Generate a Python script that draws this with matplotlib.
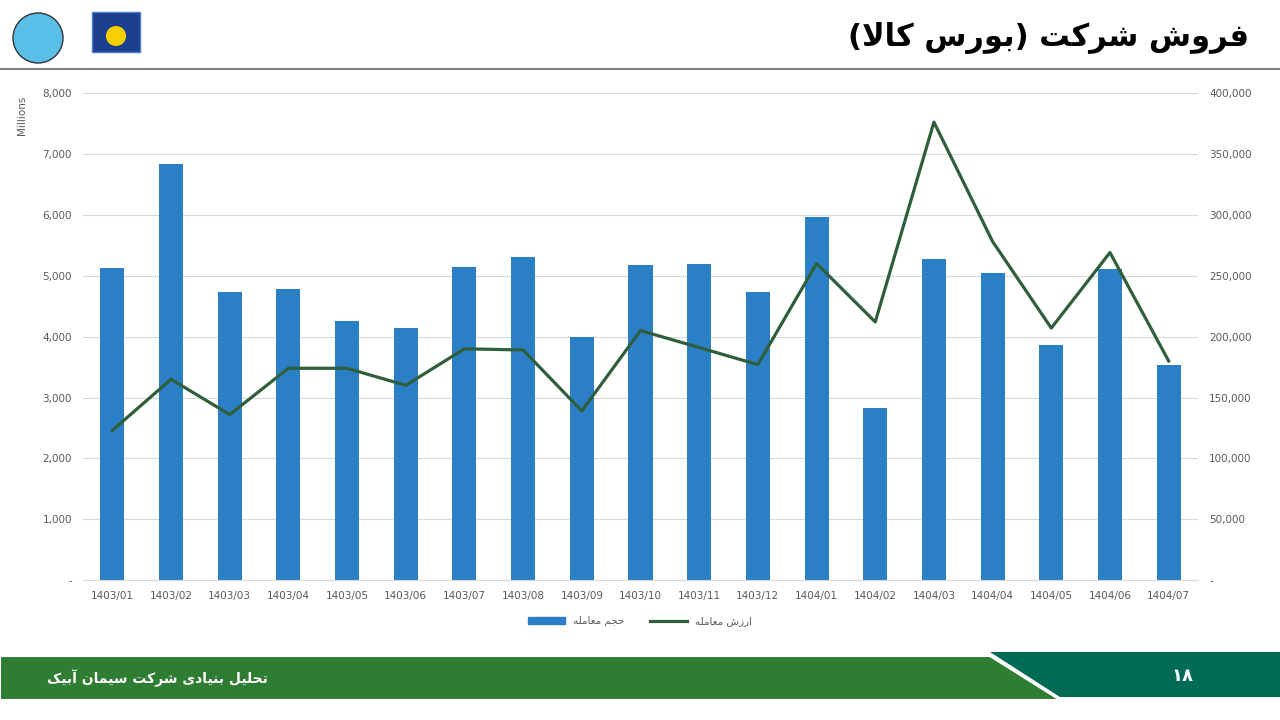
import matplotlib
matplotlib.use("Agg")
import matplotlib.pyplot as plt
from matplotlib.patches import Polygon, Ellipse, Rectangle
from matplotlib.ticker import FuncFormatter
from matplotlib.lines import Line2D
import numpy as np

months = ["1403/01","1403/02","1403/03","1403/04","1403/05","1403/06","1403/07","1403/08","1403/09",
          "1403/10","1403/11","1403/12","1404/01","1404/02","1404/03","1404/04","1404/05","1404/06","1404/07"]
volume = [5120, 6840, 4740, 4780, 4250, 4140, 5150, 5310, 3990, 5180, 5190, 4730, 5960, 2820, 5270, 5050, 3860, 5110, 3540]
value = [123000, 165000, 136000, 174000, 174000, 160000, 190000, 189000, 139000, 205000, 191000, 177000,
         260000, 212000, 376000, 278000, 207000, 269000, 180000]
title_txt = "فروش شرکت (بورس کالا)"
footer_txt = "تحلیل بنیادی شرکت سیمان آبیک"
page_txt = "۱۸"
leg_vol = "حجم معامله"
leg_val = "ارزش معامله"

FORMS = {
 'ا':(0xFE8D,0xFE8E,None,None),'آ':(0xFE81,0xFE82,None,None),'د':(0xFEA9,0xFEAA,None,None),
 'ر':(0xFEAD,0xFEAE,None,None),'ز':(0xFEAF,0xFEB0,None,None),'و':(0xFEED,0xFEEE,None,None),
 'ب':(0xFE8F,0xFE90,0xFE91,0xFE92),'ت':(0xFE95,0xFE96,0xFE97,0xFE98),'ج':(0xFE9D,0xFE9E,0xFE9F,0xFEA0),
 'ح':(0xFEA1,0xFEA2,0xFEA3,0xFEA4),'س':(0xFEB1,0xFEB2,0xFEB3,0xFEB4),'ش':(0xFEB5,0xFEB6,0xFEB7,0xFEB8),
 'ع':(0xFEC9,0xFECA,0xFECB,0xFECC),'ف':(0xFED1,0xFED2,0xFED3,0xFED4),'ل':(0xFEDD,0xFEDE,0xFEDF,0xFEE0),
 'م':(0xFEE1,0xFEE2,0xFEE3,0xFEE4),'ن':(0xFEE5,0xFEE6,0xFEE7,0xFEE8),'ه':(0xFEE9,0xFEEA,0xFEEB,0xFEEC),
 'ی':(0xFBFC,0xFBFD,0xFBFE,0xFBFF),'ک':(0xFB8E,0xFB8F,0xFB90,0xFB91),
}
def shape(s):
    chars = list(s)
    out = []
    i = 0
    n = len(chars)
    def joins_left(c):
        return c in FORMS and FORMS[c][2] is not None
    while i < n:
        c = chars[i]
        if c not in FORMS:
            out.append({'(':')', ')':'('}.get(c, c)); i += 1; continue
        prev = chars[i-1] if i > 0 else None
        pj = prev is not None and joins_left(prev)
        if c == 'ل' and i+1 < n and chars[i+1] == 'ا':
            out.append(chr(0xFEFC if pj else 0xFEFB)); i += 2; continue
        nxt = chars[i+1] if i+1 < n else None
        nj = nxt is not None and nxt in FORMS and joins_left(c)
        iso, fin, ini, med = FORMS[c]
        if pj and nj: g = med
        elif pj: g = fin
        elif nj: g = ini
        else: g = iso
        out.append(chr(g)); i += 1
    return ''.join(reversed(out))

fig = plt.figure(figsize=(12.8, 7.2), dpi=100)
fig.patch.set_facecolor("white")
ax = fig.add_axes([83/1280, 0.194, 1115/1280, 0.677])
x = np.arange(len(months))
ax.bar(x, volume, width=0.41, color="#2A7FC6", zorder=2)
ax.set_ylim(0, 8000)
ax.set_xlim(-0.5, len(months)-0.5)
ax.set_yticks(np.arange(0, 8001, 1000))
fmt = FuncFormatter(lambda v, p: "-" if v == 0 else f"{int(v):,}")
ax.yaxis.set_major_formatter(fmt)
ax.set_xticks(x)
ax.set_xticklabels(months)
ax.grid(axis="y", color="#D9D9D9", lw=0.8, zorder=0)
for s in ax.spines.values(): s.set_visible(False)
ax.spines["bottom"].set_visible(True); ax.spines["bottom"].set_color("#D9D9D9")
ax.tick_params(length=0, labelsize=7.5, colors="#595959", pad=8)
ax.set_ylabel("Millions", fontsize=7.5, color="#595959")
ax.yaxis.set_label_coords(-0.05, 0.955)

ax2 = ax.twinx()
ax2.plot(x, value, color="#2F5F3A", lw=2.3, zorder=3)
ax2.set_ylim(0, 400000)
ax2.set_yticks(np.arange(0, 400001, 50000))
ax2.yaxis.set_major_formatter(fmt)
for s in ax2.spines.values(): s.set_visible(False)
ax2.tick_params(length=0, labelsize=7.5, colors="#595959", pad=8)

handles = [Rectangle((0,0),1,1,color="#2A7FC6"), Line2D([0],[0],color="#2F5F3A",lw=2.3)]
fig.legend(handles, [shape(leg_vol), shape(leg_val)], loc="center", bbox_to_anchor=(0.5, 0.137),
           ncol=2, frameon=False, fontsize=7.5, labelcolor="#595959", handlelength=3.5, columnspacing=2.5)

# header
fig.add_artist(Line2D([0, 1], [1-69/720, 1-69/720], color="#808080", lw=1.5))
fig.text(0.976, 1-38/720, shape(title_txt), ha="right", va="center", fontsize=22, fontweight="bold", color="black")
# simple logos
fig.add_artist(Ellipse((38/1280, 1-38/720), 50/1280, 50/720, transform=fig.transFigure, fc="#5BC0E8", ec="#333333", lw=1))
fig.add_artist(Rectangle((92/1280, 1-52/720), 48/1280, 40/720, transform=fig.transFigure, fc="#1B3E8F", ec="#4A7CC8"))
fig.add_artist(Ellipse((116/1280, 1-36/720), 20/1280, 20/720, transform=fig.transFigure, fc="#F5D000"))

# footer
fig.add_artist(Polygon([(990/1280, 1-652/720), (1280/1280, 1-652/720), (1, 1-697/720), (1060/1280, 1-697/720)],
                       closed=True, transform=fig.transFigure, fc="#006B55", ec="none"))
fig.add_artist(Polygon([(0, 1-656/720), (990/1280, 1-656/720), (1060/1280, 1-700/720), (0, 1-700/720)],
                       closed=True, transform=fig.transFigure, fc="#2E7D32", ec="white", lw=1.5))
fig.text(268/1280, 1-678/720, shape(footer_txt), ha="right", va="center", fontsize=10, fontweight="bold", color="white")
fig.text(1183/1280, 1-676/720, page_txt, ha="center", va="center", fontsize=13, fontweight="bold", color="white")

fig.savefig("out.png", dpi=100)
